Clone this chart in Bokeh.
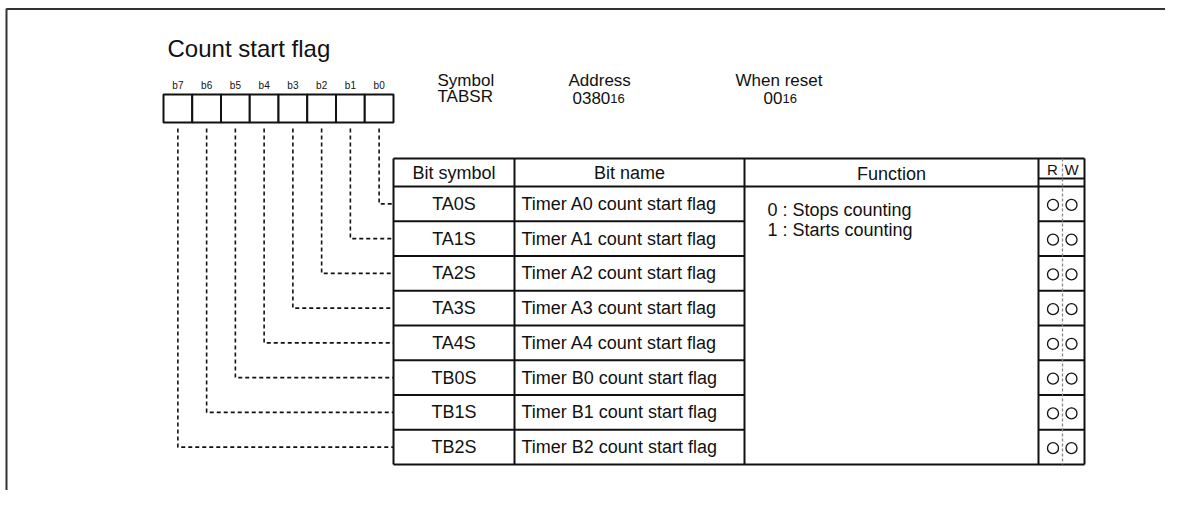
import numpy as np
from bokeh.plotting import figure
from bokeh.models import Range1d
from bokeh.core.properties import value
from bokeh.embed import file_html
from bokeh.resources import INLINE

# ---------------- data ----------------
title = "Count start flag"
bit_labels = ["b7", "b6", "b5", "b4", "b3", "b2", "b1", "b0"]
symbol_label, symbol_value = "Symbol", "TABSR"
address_label, address_value, address_sub = "Address", "0380", "16"
reset_label, reset_value, reset_sub = "When reset", "00", "16"
headers = ["Bit symbol", "Bit name", "Function"]
bit_symbols = ["TA0S", "TA1S", "TA2S", "TA3S", "TA4S", "TB0S", "TB1S", "TB2S"]
bit_names = ["Timer A0 count start flag", "Timer A1 count start flag",
             "Timer A2 count start flag", "Timer A3 count start flag",
             "Timer A4 count start flag", "Timer B0 count start flag",
             "Timer B1 count start flag", "Timer B2 count start flag"]
function_lines = ["0 : Stops counting", "1 : Starts counting"]
rw_headers = ["R", "W"]
rw_marks = ["O"] * 8  # readable & writable for every bit

# ---------------- layout ----------------
W, H = 1165, 490
FONT = "Liberation Sans"
p = figure(width=W, height=H, output_backend="svg", toolbar_location=None,
           x_range=Range1d(0, W), y_range=Range1d(H, 0),
           min_border=0, outline_line_color=None)
p.axis.visible = False
p.grid.visible = False
p.background_fill_color = "white"
p.border_fill_color = "white"

def txt(x, y, s, size, align="left", color="#111111"):
    p.text(x=[x], y=[y], text=[s], text_font=value(FONT),
           text_font_size=f"{size}px", text_align=align,
           text_baseline="middle", text_color=color)

# outer frame (top + left only)
p.segment(x0=[6, 6], y0=[8.5, 8], x1=[W, 6], y1=[8.5, H],
          line_color="#333333", line_width=2)

# title
txt(167, 48, title, 24)

# register bit boxes
bx0, bx1, by0, by1 = 163, 393, 94, 122
bw = (bx1 - bx0) / 8
box_left = bx0 + np.arange(8) * bw
p.quad(left=box_left, right=box_left + bw, top=[by0] * 8, bottom=[by1] * 8,
       fill_color="white", line_color="#111111", line_width=2)
for i, lab in enumerate(bit_labels):
    txt(box_left[i] + bw / 2, 85, lab, 10, align="center")

# symbol / address / reset
txt(437, 80, symbol_label, 17)
txt(437, 96, symbol_value, 17)
txt(568, 80, address_label, 17)
txt(572, 97, address_value, 17)
txt(572 + 0.556 * 17 * len(address_value), 98, address_sub, 13)
txt(735, 80, reset_label, 17)
txt(763, 97, reset_value, 17)
txt(763 + 0.556 * 17 * len(reset_value), 98, reset_sub, 13)

# table geometry
c0, c1, c2, c3, c4 = 393, 514, 744, 1038, 1084
cm = 1062
h_top, h_bot, rw_h_bot = 158, 186, 178
rows = np.linspace(h_bot, 464, len(bit_symbols) + 1)
centers = (rows[:-1] + rows[1:]) / 2

# connectors (bit i -> row i)
xs, ys = [], []
for i in range(8):
    cx = bx1 - (i + 0.5) * bw
    xs.append([cx, cx, c0])
    ys.append([128, centers[i], centers[i]])
p.multi_line(xs=xs, ys=ys, line_color="#111111", line_width=1.6, line_dash="4 3")

# table lines
lw = 2
hx0 = [c0, c3, c0, c3, c0]
hx1 = [c4, c4, c3, c4, c4]
hy = [h_top, rw_h_bot, h_bot, rows[0], rows[-1]]
for r in rows[1:-1]:
    hx0 += [c0, c3]
    hx1 += [c2, c4]
    hy += [r, r]
p.segment(x0=hx0, y0=hy, x1=hx1, y1=hy, line_color="#111111", line_width=lw)
vx = [c0, c1, c2, c3, c4]
p.segment(x0=vx, y0=[h_top] * 5, x1=vx, y1=[rows[-1]] * 5,
          line_color="#111111", line_width=lw)
# R/W dashed divider
p.segment(x0=[cm], y0=[h_top], x1=[cm], y1=[rows[-1]],
          line_color="#888888", line_width=1.3, line_dash="3 2")

# headers
hc = (h_top + h_bot) / 2
txt((c0 + c1) / 2, hc, headers[0], 18, align="center")
txt((c1 + c2) / 2, hc, headers[1], 18, align="center")
txt((c2 + c3) / 2, hc + 1, headers[2], 18, align="center")
txt(1052, (h_top + rw_h_bot) / 2 + 0.5, rw_headers[0], 15, align="center")
txt(1071, (h_top + rw_h_bot) / 2 + 0.5, rw_headers[1], 15, align="center")

# rows
for i in range(8):
    txt((c0 + c1) / 2, centers[i], bit_symbols[i], 18, align="center")
    txt(521, centers[i], bit_names[i], 18)

# function text
txt(767, 209, function_lines[0], 18)
txt(767, 229, function_lines[1], 18)

# R/W circles
p.scatter(x=[1052.5] * 8, y=centers + 1, marker="circle", size=11,
          fill_color=None, line_color="#111111", line_width=1.3)
p.scatter(x=[1071] * 8, y=centers + 1, marker="circle", size=11,
          fill_color=None, line_color="#111111", line_width=1.3)

open("out.html", "w").write(file_html(p, INLINE))
